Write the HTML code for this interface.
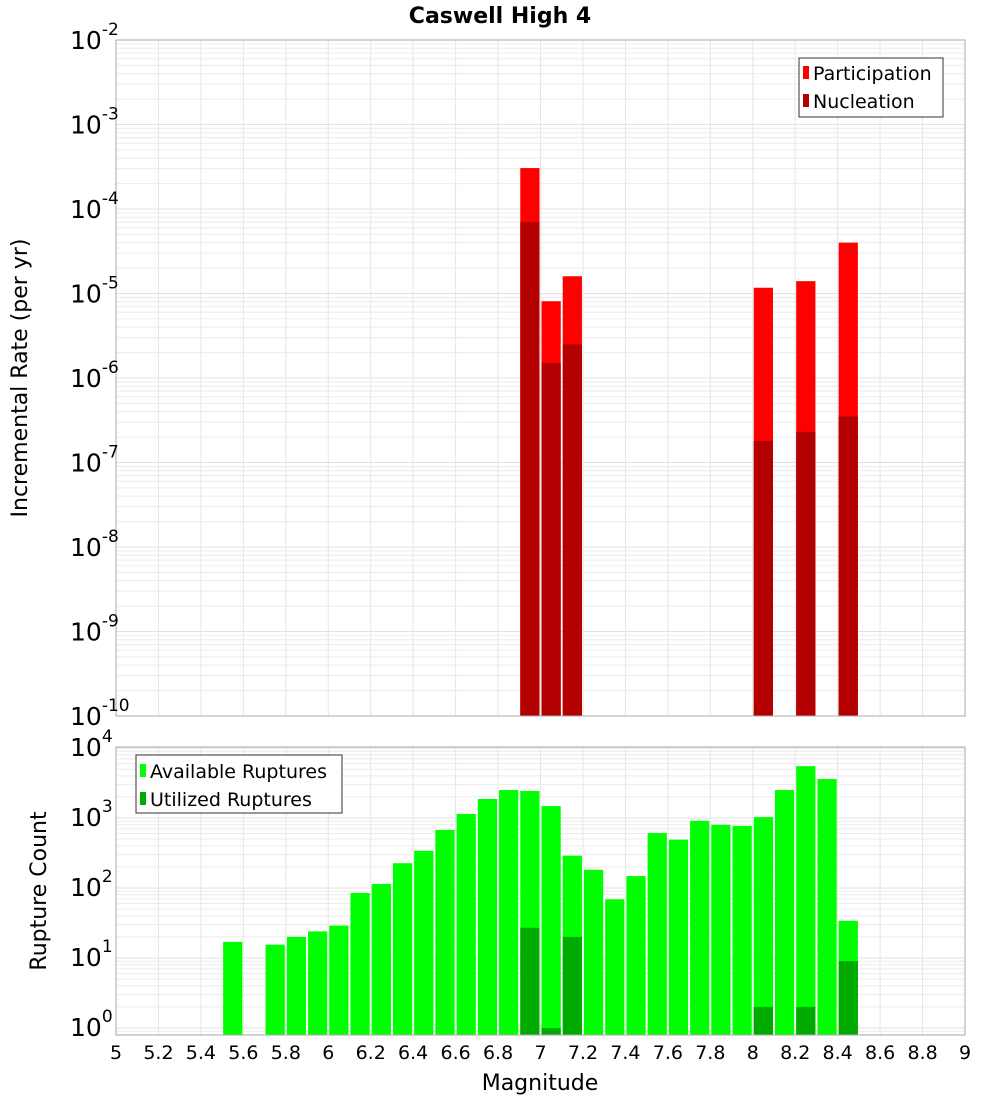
<!DOCTYPE html>
<html><head><meta charset="utf-8"><style>
body{margin:0;background:#fff;}
svg text{font-family:"DejaVu Sans","Liberation Sans",sans-serif;}
</style></head><body>
<svg id="chart" width="1000" height="1100" xmlns="http://www.w3.org/2000/svg">
<text x="500" y="23" text-anchor="middle" font-size="22" font-weight="bold">Caswell High 4</text>
<g id="topPanel"></g><g id="botPanel"></g><g id="xaxis"></g>
<text transform="translate(27,378) rotate(-90)" text-anchor="middle" font-size="22">Incremental Rate (per yr)</text>
<text transform="translate(46,891) rotate(-90)" text-anchor="middle" font-size="22">Rupture Count</text>
<text x="540" y="1090" text-anchor="middle" font-size="22">Magnitude</text>
<g>
<rect x="799" y="58" width="144" height="59" fill="#fff" stroke="#333"/>
<rect x="803" y="66" width="6" height="13" fill="#ff0000"/>
<text x="813" y="80" font-size="19">Participation</text>
<rect x="803" y="94" width="6" height="13" fill="#b30000"/>
<text x="813" y="108" font-size="19">Nucleation</text>
</g>
<g>
<rect x="136" y="755" width="206" height="58" fill="#fff" stroke="#333"/>
<rect x="140" y="764" width="6" height="13" fill="#00ff00"/>
<text x="150" y="778" font-size="19">Available Ruptures</text>
<rect x="140" y="792" width="6" height="13" fill="#00aa00"/>
<text x="150" y="806" font-size="19">Utilized Ruptures</text>
</g>
</svg>
<script>
const rateMags = [6.95, 7.05, 7.15, 8.05, 8.25, 8.45];
const participation = [3.05e-4, 8.1e-6, 1.6e-5, 1.17e-5, 1.4e-5, 4e-5];
const nucleation = [7e-5, 1.5e-6, 2.5e-6, 1.8e-7, 2.3e-7, 3.5e-7];
const countMags = [5.55,5.75,5.85,5.95,6.05,6.15,6.25,6.35,6.45,6.55,6.65,6.75,6.85,6.95,7.05,7.15,7.25,7.35,7.45,7.55,7.65,7.75,7.85,7.95,8.05,8.15,8.25,8.35,8.45];
const available = [17,15.5,20,24,29,85,114,226,340,675,1140,1870,2510,2430,1480,290,182,69,148,610,490,910,800,770,1030,2510,5500,3600,34];
const utilMags = [6.95, 7.05, 7.15, 8.05, 8.25, 8.45];
const utilized = [27, 1, 20, 2, 2, 9];
const xTicks = [5,5.2,5.4,5.6,5.8,6,6.2,6.4,6.6,6.8,7,7.2,7.4,7.6,7.8,8,8.2,8.4,8.6,8.8,9];
const topExps = [-2,-3,-4,-5,-6,-7,-8,-9,-10];
const botExps = [4,3,2,1,0];

const NS="http://www.w3.org/2000/svg";
const X0=116,X1=965;
const x=m=>X0+(m-5)/4*(X1-X0);
const T0=40,T1=716;
const yTop=v=>T0+(-2-Math.log10(v))/8*(T1-T0);
const B0=747,B1=1035,BD=70;
const yBot=v=>B0+1+(4-Math.log10(v))*BD;
function mk(p,tag,a){const e=document.createElementNS(NS,tag);for(const k in a)e.setAttribute(k,a[k]);p.appendChild(e);return e;}
const topG=document.getElementById('topPanel'),botG=document.getElementById('botPanel'),xaG=document.getElementById('xaxis');

function panel(g,y0,y1,yfn,lo,hi,name){
  const bg=mk(g,'rect',{x:X0,y:y0,width:X1-X0,height:y1-y0,fill:'#fff'});
  
  
  for(let e=lo;e<hi;e++)for(let k=1;k<10;k++){
    const yy=yfn(k*Math.pow(10,e));
    if(yy<y0||yy>y1)continue;
    mk(g,'line',{x1:X0,x2:X1,y1:yy,y2:yy,stroke:k==1?'#e0e0e0':'#ececec','stroke-width':1});
  }
  xTicks.forEach(t=>mk(g,'line',{x1:x(t),x2:x(t),y1:y0,y2:y1,stroke:'#e6e6e6'}));
}
panel(topG,T0,T1,yTop,-10,-1,'top');
panel(botG,B0,B1,yBot,-1,5,'bottom');

function bar(g,m,v,yfn,base,color,name){
  const yy=yfn(v);
  const r=mk(g,'rect',{x:x(m-0.05)+1,y:yy,width:x(m+0.05)-x(m-0.05)-2,height:base-yy,fill:color});
  
  
}
rateMags.forEach((m,i)=>bar(topG,m,participation[i],yTop,T1,'#ff0000','participation-bar'));
rateMags.forEach((m,i)=>bar(topG,m,nucleation[i],yTop,T1,'#b30000','nucleation-bar'));
countMags.forEach((m,i)=>bar(botG,m,available[i],yBot,B1,'#00ff00','available-bar'));
utilMags.forEach((m,i)=>bar(botG,m,utilized[i],yBot,B1,'#00aa00','utilized-bar'));

mk(topG,'rect',{x:X0,y:T0,width:X1-X0,height:T1-T0,fill:'none',stroke:'#aaa'});
mk(botG,'rect',{x:X0,y:B0,width:X1-X0,height:B1-B0,fill:'none',stroke:'#aaa'});

function ylab(g,e,yy,name){
  const t=mk(g,'text',{x:70,y:yy+9,'font-size':25});
  t.textContent='10';
  
  
  const s=mk(t,'tspan',{dy:-14,'font-size':17});
  s.textContent=String(e);
}
topExps.forEach(e=>ylab(topG,e,yTop(Math.pow(10,e)),'top-y-tick-label'));
botExps.forEach(e=>ylab(botG,e,yBot(Math.pow(10,e))-1,'bottom-y-tick-label'));
xTicks.forEach(t=>{
  const el=mk(xaG,'text',{x:x(t),y:1059,'text-anchor':'middle','font-size':19});
  el.textContent=String(t);
  
  
});
</script>
</body></html>
